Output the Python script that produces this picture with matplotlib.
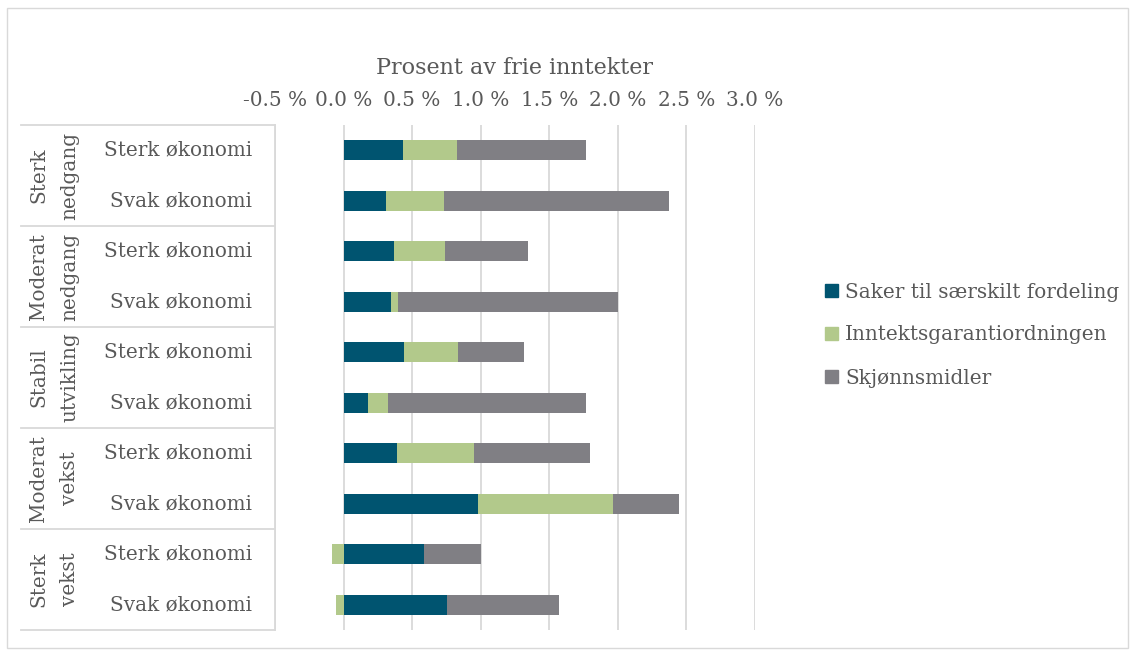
import numpy as np
import matplotlib.pyplot as plt
from matplotlib.patches import Rectangle
from matplotlib.lines import Line2D

# data (percent of free income)
groups = ['Sterk\nnedgang', 'Moderat\nnedgang', 'Stabil\nutvikling', 'Moderat\nvekst', 'Sterk\nvekst']
subcats = ['Sterk økonomi', 'Svak økonomi']
series = ['Saker til særskilt fordeling', 'Inntektsgarantiordningen', 'Skjønnsmidler']
saker = [0.43, 0.31, 0.37, 0.345, 0.437, 0.18, 0.39, 0.977, 0.59, 0.753]
garanti = [0.40, 0.423, 0.372, 0.049, 0.396, 0.141, 0.564, 0.984, -0.082, -0.058]
skjonn = [0.935, 1.64, 0.60, 1.606, 0.481, 1.448, 0.84, 0.486, 0.41, 0.819]
colors = ['#005470', '#B2C98B', '#807F84']
xticks = [-0.5, 0.0, 0.5, 1.0, 1.5, 2.0, 2.5, 3.0]

txt = '#595959'
font = 'DejaVu Serif'
fs = 14.4

W, H = 1130, 652
fig = plt.figure(figsize=(W / 100, H / 100), dpi=100)

# outer chart border
fig.patches.append(Rectangle((7 / W, 4 / H), 1 - 9 / W, 1 - 12 / H, transform=fig.transFigure,
                             fill=False, edgecolor='#D9D9D9', linewidth=1))

top_px, bot_px, left_px, right_px = 125, 630, 275, 755
ax = fig.add_axes([left_px / W, 1 - bot_px / H, (right_px - left_px) / W, (bot_px - top_px) / H])

rows = np.arange(len(saker))
pos_left = np.zeros(len(rows))
neg_left = np.zeros(len(rows))
for vals, c in zip([saker, garanti, skjonn], colors):
    vals = np.array(vals)
    lefts = np.where(vals >= 0, pos_left, neg_left)
    ax.barh(rows, vals, left=lefts, height=0.4, color=c, zorder=3)
    pos_left = pos_left + np.where(vals >= 0, vals, 0)
    neg_left = neg_left + np.where(vals < 0, vals, 0)

ax.set_xlim(-0.5, 3.0)
ax.set_ylim(len(rows) - 0.5, -0.5)
ax.set_xticks(xticks)
ax.set_xticklabels([f'{v:.1f} %' for v in xticks], fontfamily=font, fontsize=fs, color=txt)
ax.xaxis.tick_top()
ax.tick_params(axis='x', length=0, pad=11)
ax.set_yticks([])
ax.grid(axis='x', color='#D9D9D9', linewidth=1.3, zorder=0)
for s in ax.spines.values():
    s.set_visible(False)
ax.xaxis.set_label_position('top')
ax.set_xlabel('Prosent av frie inntekter', fontfamily=font, fontsize=16, color=txt, labelpad=12)

# category table on the left
def fy(px):
    return 1 - px / H

row_h = (bot_px - top_px) / len(rows)
fig.add_artist(Line2D([left_px / W, left_px / W], [fy(top_px), fy(bot_px)], color='#D9D9D9', lw=1.3))
for g in range(len(groups) + 1):
    yy = top_px + g * 2 * row_h
    fig.add_artist(Line2D([21 / W, left_px / W], [fy(yy), fy(yy)], color='#D9D9D9', lw=1.3))
for g, name in enumerate(groups):
    yc = top_px + (g * 2 + 1) * row_h
    fig.text(54 / W, fy(yc), name, rotation=90, ha='center', va='center', multialignment='center',
             fontfamily=font, fontsize=fs, color=txt, linespacing=1.8)
for i in rows:
    yc = top_px + (i + 0.5) * row_h
    fig.text(252 / W, fy(yc), subcats[i % 2], ha='right', va='center',
             fontfamily=font, fontsize=fs, color=txt)

handles = [Rectangle((0, 0), 1, 1, color=c) for c in colors]
fig.legend(handles, series, loc='center left', bbox_to_anchor=(807 / W, fy(335)), frameon=False,
           prop={'family': font, 'size': fs}, labelcolor=txt, handlelength=0.65, handleheight=0.65,
           handletextpad=0.35, labelspacing=1.2)

fig.savefig('out.png', dpi=100)
